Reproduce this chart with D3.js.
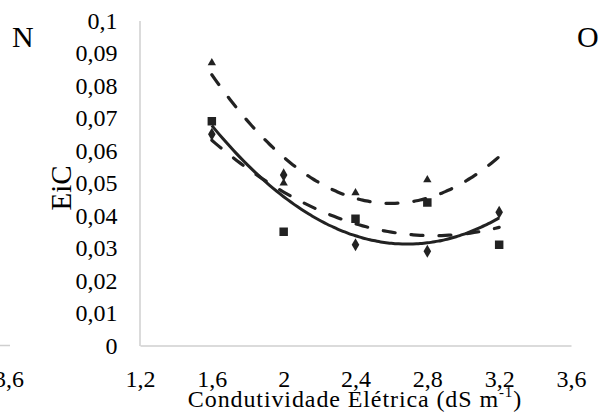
<!DOCTYPE html>
<html>
<head>
<meta charset="utf-8">
<script src="https://cdn.jsdelivr.net/npm/d3@7"></script>
<style>
  html, body { margin: 0; padding: 0; background: #fff; }
  svg { display: block; }
  svg text { font-family: "Liberation Serif", Tinos, "Times New Roman", Times, "DejaVu Serif", serif; fill: #000; }
</style>
</head>
<body>
<svg id="chart" width="601" height="414"></svg>
<script>
// Salinity levels (dS m-1)
const conductivity = [1.6, 2.0, 2.4, 2.8, 3.2];

// EiC by treatment (null = no marker shown)
const triangleValues = [0.087, 0.050, 0.047, 0.051, null];
const squareValues   = [0.069, 0.035, 0.039, 0.044, 0.031];
const diamondValues  = [0.065, 0.0525, 0.031, 0.029, 0.041];

// Quadratic trendlines y = a·x² + b·x + c
const triangleTrend = [0.039732, -0.206464, 0.311943];
const squareTrend   = [0.019196, -0.108893, 0.188229];
const diamondTrend  = [0.030804, -0.165610, 0.253790];

const xTicks = [1.2, 1.6, 2.0, 2.4, 2.8, 3.2, 3.6];
const yTicks = [0, 0.01, 0.02, 0.03, 0.04, 0.05, 0.06, 0.07, 0.08, 0.09, 0.1];

const svg = d3.select("#chart");
const ink = "#222";
const axisGray = "#cfcfcf";
const fmt = v => String(+v.toFixed(2)).replace(".", ",");

const x = d3.scaleLinear().domain([1.2, 3.6]).range([140, 571]);
const y = d3.scaleLinear().domain([0, 0.1]).range([345.5, 20.5]);

// Axes
const xAxis = svg.append("g").attr("transform", `translate(0,${y(0)})`)
  .call(d3.axisBottom(x).tickValues(xTicks).tickSize(0).tickPadding(24).tickFormat(fmt));
xAxis.attr("font-family", null);
xAxis.select(".domain").attr("stroke", axisGray).attr("stroke-width", 1.5);
xAxis.selectAll("text").attr("font-size", 24).attr("dy", "0.71em");

const yAxis = svg.append("g").attr("transform", `translate(${x(1.2) - 0.5},0)`)
  .call(d3.axisLeft(y).tickValues(yTicks).tickSize(0).tickPadding(22).tickFormat(fmt));
yAxis.attr("font-family", null);
yAxis.select(".domain").attr("stroke", axisGray).attr("stroke-width", 1.5);
yAxis.selectAll("text").attr("font-size", 24);

// Neighbouring panel edge at left
svg.append("line").attr("x1", 0).attr("x2", 10).attr("y1", y(0)).attr("y2", y(0))
  .attr("stroke", axisGray).attr("stroke-width", 1.5);
svg.append("text").attr("x", 9).attr("y", y(0) + 41.5).attr("text-anchor", "middle")
  .attr("font-size", 24).text("3,6");

// Panel letters
svg.append("text").attr("x", 12).attr("y", 47).attr("font-size", 30).text("N");
svg.append("text").attr("x", 577).attr("y", 47).attr("font-size", 30).text("O");

// Axis titles
const xt = svg.append("text").attr("x", 355).attr("y", 407).attr("text-anchor", "middle")
  .attr("font-size", 24).attr("letter-spacing", 0.9);
xt.append("tspan").text("Condutividade Elétrica (dS m");
xt.append("tspan").attr("font-size", 15).attr("dy", -10).text("-1");
xt.append("tspan").attr("dy", 10).text(")");

svg.append("text").attr("transform", "translate(71,188) rotate(-90)")
  .attr("text-anchor", "middle").attr("font-size", 29).text("EiC");

// Trendlines
const xs = d3.range(1.6, 3.2001, 0.02);
const curve = coef => xs.map(v => [v, coef[0] * v * v + coef[1] * v + coef[2]]);
const line = d3.line().x(d => x(d[0])).y(d => y(d[1])).curve(d3.curveMonotoneX);

svg.append("path").attr("d", line(curve(triangleTrend))).attr("fill", "none")
  .attr("stroke", ink).attr("stroke-width", 3.2).attr("stroke-linecap", "round")
  .attr("stroke-dasharray", "12,16");
svg.append("path").attr("d", line(curve(squareTrend))).attr("fill", "none")
  .attr("stroke", ink).attr("stroke-width", 3.2).attr("stroke-linecap", "round")
  .attr("stroke-dasharray", "12,16");
svg.append("path").attr("d", line(curve(diamondTrend))).attr("fill", "none")
  .attr("stroke", ink).attr("stroke-width", 3);

// Markers
function markers(values, type, size) {
  svg.append("g").selectAll("path")
    .data(conductivity.map((c, i) => [c, values[i]]).filter(d => d[1] != null))
    .join("path")
    .attr("transform", d => `translate(${x(d[0])},${y(d[1])})`)
    .attr("d", d3.symbol().type(type).size(size))
    .attr("fill", ink);
}
markers(triangleValues, d3.symbolTriangle, 30);
markers(squareValues, d3.symbolSquare, 72);
markers(diamondValues, d3.symbolDiamond, 50);
</script>
</body>
</html>
